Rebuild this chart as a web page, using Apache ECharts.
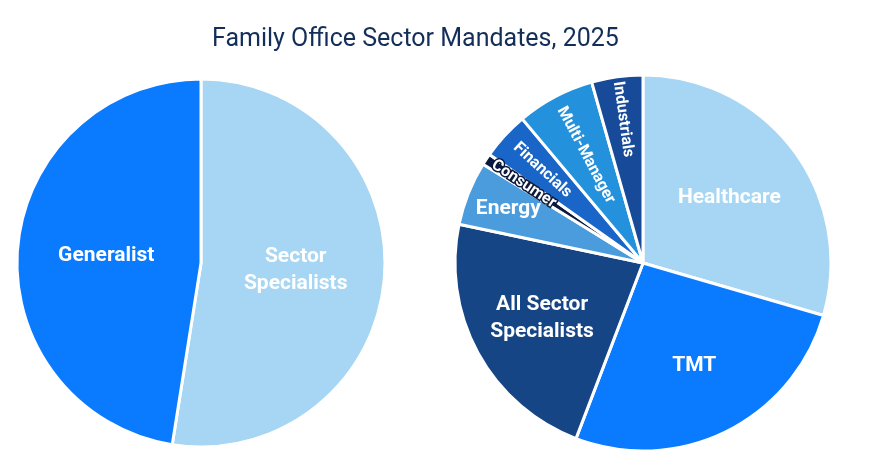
<!DOCTYPE html>
<html>
<head>
<meta charset="utf-8">
<script src="https://cdn.jsdelivr.net/npm/echarts@6/dist/echarts.min.js"></script>
<style>
  html, body { margin: 0; padding: 0; background: #fff; }
  #chart { width: 878px; height: 476px; }
</style>
</head>
<body>
<div id="chart"></div>
<script>
const titleText = 'Family Office Sector Mandates, 2025'

// left pie, clockwise from 12 o'clock
const mandateNames = ['Sector\nSpecialists', 'Generalist']
const mandateValues = [52.5, 47.5]
const mandateColors = ['#A6D6F3', '#0A7AFF']

// right pie, clockwise from 12 o'clock
const sectorNames = ['Healthcare', 'TMT', 'All Sector\nSpecialists', 'Energy', 'Consumer', 'Financials', 'Multi-Manager', 'Industrials']
const sectorValues = [29.5, 26.3, 22.5, 5.5, 1.0, 4.1, 6.7, 4.4]
const sectorColors = ['#A6D6F3', '#0A7AFF', '#164585', '#4A9CDD', '#0B1A3C', '#1A66C8', '#2391DC', '#174A98']

const radialLabels = ['Consumer', 'Financials', 'Multi-Manager', 'Industrials']

const font = 'Roboto, "Noto Sans", sans-serif'
const labelBase = { color: '#fff', fontFamily: font, fontWeight: 'bold', fontSize: 21, lineHeight: 27 }

const chart = echarts.init(document.getElementById('chart'), null, { renderer: 'canvas' })

function pieItems(names, values, colors) {
  return names.map((n, i) => ({ name: n, value: values[i], itemStyle: { color: colors[i] } }))
}

// invisible copy of the right pie that only carries the labels of `names`;
// its inner radius sets how far out those labels sit
function labelRing(inner, names) {
  return {
    type: 'pie',
    center: [643, 263],
    radius: [inner, 188],
    startAngle: 90,
    silent: true,
    z: 5,
    minShowLabelAngle: 0,
    itemStyle: { color: 'rgba(0,0,0,0)', borderWidth: 0 },
    labelLine: { show: false },
    labelLayout: { hideOverlap: false },
    emphasis: { disabled: true },
    label: Object.assign({}, labelBase, { position: 'inside' }),
    data: sectorNames.map((n, i) => {
      const item = { name: n, value: sectorValues[i], label: { show: names.includes(n) } }
      if (radialLabels.includes(n)) {
        item.label.rotate = 'radial'
        item.label.fontSize = 16
        item.label.lineHeight = 18
      }
      if (n === 'Consumer') {
        item.label.textBorderColor = '#0B1A3C'
        item.label.textBorderWidth = 3
      }
      return item
    })
  }
}

chart.setOption({
  animation: false,
  title: {
    text: titleText,
    left: 207,
    top: 22,
    textStyle: { color: '#142E5A', fontFamily: font, fontWeight: 'normal', fontSize: 25 }
  },
  series: [
    {
      type: 'pie',
      center: [201, 263],
      radius: 184,
      startAngle: 90,
      silent: true,
      itemStyle: { borderColor: '#fff', borderWidth: 3 },
      label: Object.assign({}, labelBase, { position: 'inside' }),
      labelLine: { show: false },
      data: pieItems(mandateNames, mandateValues, mandateColors)
    },
    {
      type: 'pie',
      center: [643, 263],
      radius: 188,
      startAngle: 90,
      silent: true,
      itemStyle: { borderColor: '#fff', borderWidth: 3 },
      label: { show: false },
      labelLine: { show: false },
      data: pieItems(sectorNames, sectorValues, sectorColors)
    },
    labelRing(22, ['Healthcare']),
    labelRing(36, ['TMT', 'All Sector\nSpecialists']),
    labelRing(96, ['Energy', 'Industrials']),
    labelRing(80, ['Financials']),
    labelRing(50, ['Multi-Manager']),
    labelRing(92, ['Consumer'])
  ]
})
</script>
</body>
</html>
